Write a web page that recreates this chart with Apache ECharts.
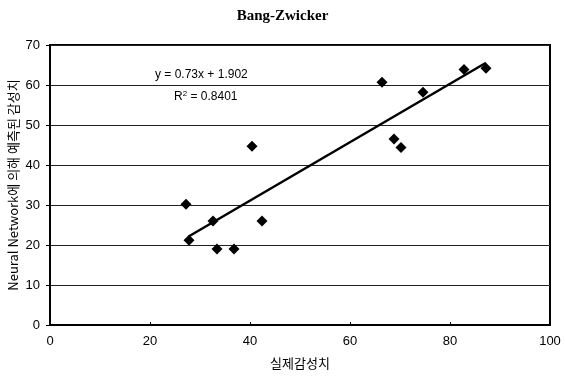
<!DOCTYPE html>
<html><head><meta charset="utf-8">
<script src="https://cdn.jsdelivr.net/npm/echarts@6/dist/echarts.min.js"></script>
<style>html,body{margin:0;padding:0;background:#fff}#c{width:565px;height:378px}</style>
</head><body><div id="c"></div>
<script>
const actualValues = [27.2, 27.8, 32.6, 33.4, 36.8, 40.4, 42.4, 66.4, 68.8, 70.2, 74.6, 82.8, 87.2];
const predictedValues = [30.2, 21.2, 26.0, 19.0, 19.0, 44.7, 26.0, 60.7, 46.5, 44.4, 58.2, 63.9, 64.2];
const slope = 0.73, intercept = 1.902;
const trendX = [27.8, 87.2];
const equationText = 'y = 0.73x + 1.902';
const r2Text = 'R{s|2} = 0.8401';
const titleText = 'Bang-Zwicker';
const xName = '실제감성치';
const yName = 'Neural Network에 의해 예측된 감성치';

const scatterData = actualValues.map((x, i) => [x, predictedValues[i]]);
const trendData = trendX.map(x => [x, slope * x + intercept]);

const chart = echarts.init(document.getElementById('c'));
chart.setOption({
  animation: false,
  backgroundColor: '#fff',
  title: {text: titleText, left: 'center', top: 4,
    textStyle: {fontFamily: 'Liberation Serif', fontWeight: 'bold', fontSize: 15, color: '#000'}},
  grid: {left: 50, right: 15, top: 45, bottom: 53, show: true, borderColor: '#000', borderWidth: 2,
    containLabel: false, outerBoundsMode: 'none'},
  xAxis: {type: 'value', min: 0, max: 100, interval: 20,
    name: xName, nameLocation: 'middle', nameGap: 32, nameMoveOverlap: false,
    nameTextStyle: {fontFamily: 'Noto Sans CJK KR', fontSize: 13, color: '#000'},
    axisLine: {show: true, lineStyle: {color: '#000', width: 2}},
    axisTick: {show: true, inside: true, length: 3, lineStyle: {color: '#000'}},
    axisLabel: {fontFamily: 'Liberation Sans', fontSize: 13, color: '#000', margin: 10},
    splitLine: {show: false}},
  yAxis: {type: 'value', min: 0, max: 70, interval: 10,
    name: yName, nameLocation: 'middle', nameGap: 30, nameRotate: 90, nameMoveOverlap: false,
    nameTextStyle: {fontFamily: 'Noto Sans CJK KR', fontSize: 13, color: '#000'},
    axisLine: {show: true, lineStyle: {color: '#000', width: 2}},
    axisTick: {show: true, inside: false, length: 4, lineStyle: {color: '#000'}},
    axisLabel: {fontFamily: 'Liberation Sans', fontSize: 13, color: '#000', margin: 10},
    splitLine: {show: true, lineStyle: {color: '#222', width: 1}}},
  series: [
    {type: 'line', data: trendData, showSymbol: false, symbol: 'none',
     lineStyle: {color: '#000', width: 2.5}, z: 2, silent: true},
    {type: 'scatter', data: scatterData, symbol: 'diamond', symbolSize: 11,
     itemStyle: {color: '#000', opacity: 1}, z: 3}
  ],
  graphic: [
    {type: 'text', left: 155, top: 69, style: {text: equationText, font: '12px "Liberation Sans"', fill: '#000'}},
    {type: 'text', left: 174, top: 90, style: {text: r2Text, font: '12px "Liberation Sans"', fill: '#000',
      rich: {s: {fontSize: 8, verticalAlign: 'top', padding: [0,0,6,0], fontFamily: 'Liberation Sans'}}}}
  ]
});
</script></body></html>
